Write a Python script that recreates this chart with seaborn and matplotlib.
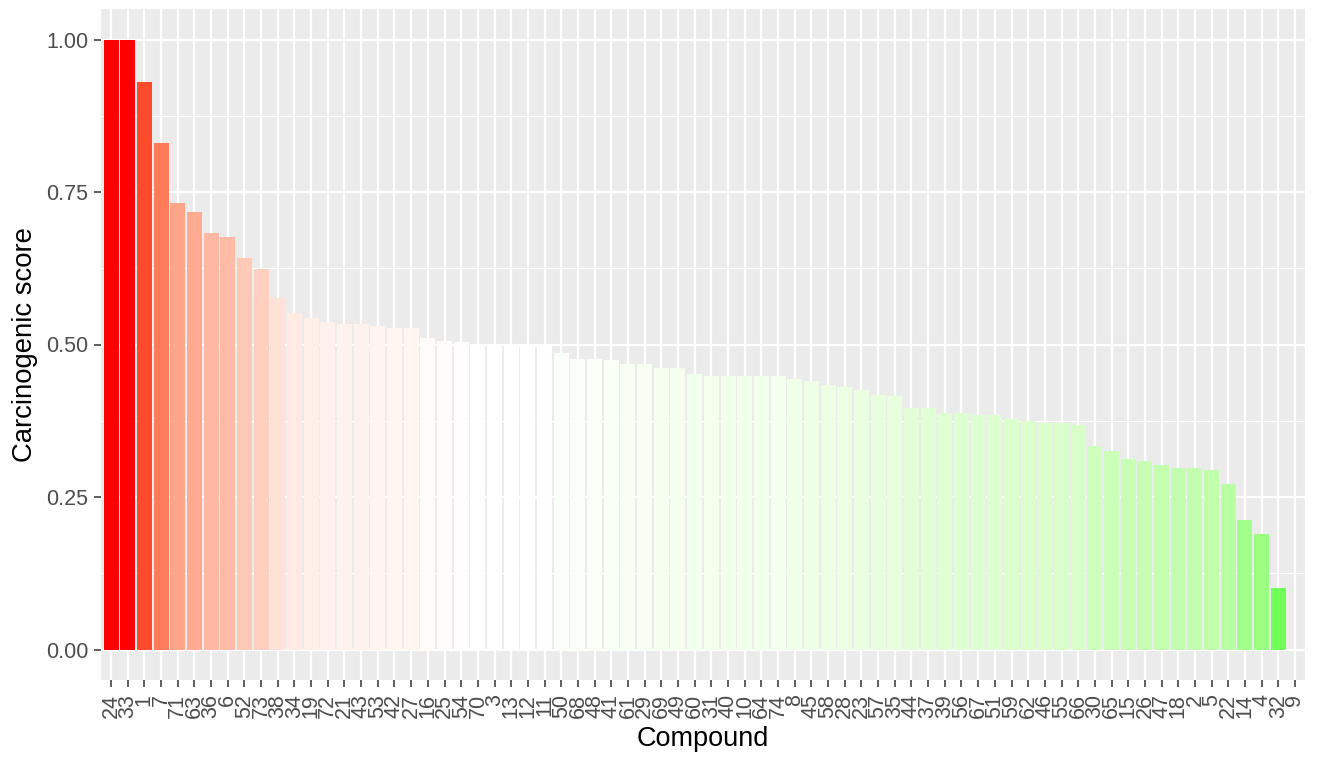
import numpy as np
import pandas as pd
import matplotlib
matplotlib.use("Agg")
import matplotlib.pyplot as plt
import seaborn as sns

# Compounds ordered by decreasing carcinogenic score
compounds = ["24", "33", "1", "7", "71", "63", "36", "6", "52", "73",
             "38", "34", "19", "72", "21", "43", "53", "42", "27", "16",
             "25", "54", "70", "3", "13", "12", "11", "50", "68", "48",
             "41", "61", "29", "69", "49", "60", "31", "40", "10", "64",
             "74", "8", "45", "58", "28", "23", "57", "35", "44", "37",
             "39", "56", "67", "51", "59", "62", "46", "55", "66", "30",
             "65", "15", "26", "47", "18", "2", "5", "22", "14", "4",
             "32", "9"]

scores = [1.000, 1.000, 0.931, 0.831, 0.732, 0.717, 0.682, 0.676, 0.642, 0.623,
          0.577, 0.552, 0.543, 0.537, 0.533, 0.533, 0.530, 0.527, 0.527, 0.511,
          0.505, 0.504, 0.500, 0.500, 0.500, 0.500, 0.500, 0.486, 0.477, 0.477,
          0.474, 0.468, 0.468, 0.461, 0.461, 0.452, 0.449, 0.449, 0.449, 0.449,
          0.449, 0.443, 0.440, 0.434, 0.431, 0.425, 0.418, 0.415, 0.396, 0.396,
          0.387, 0.387, 0.384, 0.384, 0.378, 0.375, 0.372, 0.372, 0.368, 0.334,
          0.325, 0.313, 0.309, 0.303, 0.297, 0.297, 0.294, 0.272, 0.213, 0.189,
          0.101, 0.000]

y_ticks = [0.00, 0.25, 0.50, 0.75, 1.00]
y_tick_labels = ["0.00", "0.25", "0.50", "0.75", "1.00"]

low_col, mid_col, high_col = "#00FF00", "#FFFFFF", "#FF0000"
midpoint = 0.5


# --- diverging gradient interpolated in CIELAB -------------------------
def _srgb_to_lab(rgb):
    rgb = np.asarray(rgb, float)
    lin = np.where(rgb <= 0.04045, rgb / 12.92, ((rgb + 0.055) / 1.055) ** 2.4)
    m = np.array([[0.4124564, 0.3575761, 0.1804375],
                  [0.2126729, 0.7151522, 0.0721750],
                  [0.0193339, 0.1191920, 0.9503041]])
    xyz = m @ lin
    white = np.array([0.95047, 1.0, 1.08883])
    t = xyz / white
    d = 6 / 29
    f = np.where(t > d ** 3, np.cbrt(t), t / (3 * d * d) + 4 / 29)
    return np.array([116 * f[1] - 16, 500 * (f[0] - f[1]), 200 * (f[1] - f[2])])


def _lab_to_srgb(lab):
    L, a, b = lab
    fy = (L + 16) / 116
    fx = fy + a / 500
    fz = fy - b / 200
    d = 6 / 29
    f = np.array([fx, fy, fz])
    t = np.where(f > d, f ** 3, 3 * d * d * (f - 4 / 29))
    white = np.array([0.95047, 1.0, 1.08883])
    xyz = t * white
    minv = np.array([[3.2404542, -1.5371385, -0.4985314],
                     [-0.9692660, 1.8760108, 0.0415560],
                     [0.0556434, -0.2040259, 1.0572252]])
    lin = np.clip(minv @ xyz, 0, 1)
    rgb = np.where(lin <= 0.0031308, 12.92 * lin, 1.055 * lin ** (1 / 2.4) - 0.055)
    return tuple(np.clip(rgb, 0, 1))


lab_low = _srgb_to_lab(matplotlib.colors.to_rgb(low_col))
lab_mid = _srgb_to_lab(matplotlib.colors.to_rgb(mid_col))
lab_high = _srgb_to_lab(matplotlib.colors.to_rgb(high_col))


def diverging_colour(v, vmin, vmax):
    span = max(abs(vmin - midpoint), abs(vmax - midpoint))
    p = (v - midpoint) / span / 2 + 0.5
    if p <= 0.5:
        t = p / 0.5
        lab = lab_low + (lab_mid - lab_low) * t
    else:
        t = (p - 0.5) / 0.5
        lab = lab_mid + (lab_high - lab_mid) * t
    return _lab_to_srgb(lab)


df = pd.DataFrame({"Compound": compounds, "score": scores})
vmin, vmax = df["score"].min(), df["score"].max()
palette = {c: diverging_colour(s, vmin, vmax) for c, s in zip(compounds, scores)}

# --- figure -------------------------------------------------------------
sns.set_theme(style="darkgrid")
plt.rcParams["font.family"] = ["Liberation Sans", "DejaVu Sans"]

fig = plt.figure(figsize=(13.19, 7.60), dpi=100)
ax = fig.add_axes([101 / 1319, 1 - 680 / 760, (1305 - 101) / 1319, (680 - 9) / 760])
ax.set_facecolor("#EBEBEB")

sns.barplot(data=df, x="Compound", y="score", hue="Compound", order=compounds,
            palette=palette, legend=False, width=0.9, saturation=1,
            edgecolor="none", linewidth=0, ax=ax)

ax.set_xlim(-0.6, len(compounds) - 0.4)
ax.set_ylim(-0.05, 1.05)

# grid: major and minor white lines behind bars
ax.set_axisbelow(True)
ax.set_yticks(y_ticks)
ax.set_yticks([0.125, 0.375, 0.625, 0.875], minor=True)
ax.grid(False)
ax.grid(which="major", axis="both", color="white", linewidth=1.6)
ax.grid(which="minor", axis="y", color="white", linewidth=0.8)

for s in ax.spines.values():
    s.set_visible(False)

ax.set_yticklabels(y_tick_labels)
ax.tick_params(axis="y", which="major", length=5, width=1.1, color="#333333",
               labelsize=15.5, labelcolor="#4D4D4D", pad=4, left=True)
ax.tick_params(axis="y", which="minor", length=0)
ax.tick_params(axis="x", length=5, width=1.1, color="#333333",
               labelsize=15.5, labelcolor="#4D4D4D", pad=5, bottom=True)
ax.set_xticks(range(len(compounds)))
ax.set_xticklabels(compounds, rotation=90, ha="center", va="top")

ax.set_xlabel("Compound", fontsize=19.5, color="black", labelpad=6)
ax.set_ylabel("Carcinogenic score", fontsize=19.8, color="black", labelpad=6)

fig.savefig("out.png", dpi=100, facecolor="white")
